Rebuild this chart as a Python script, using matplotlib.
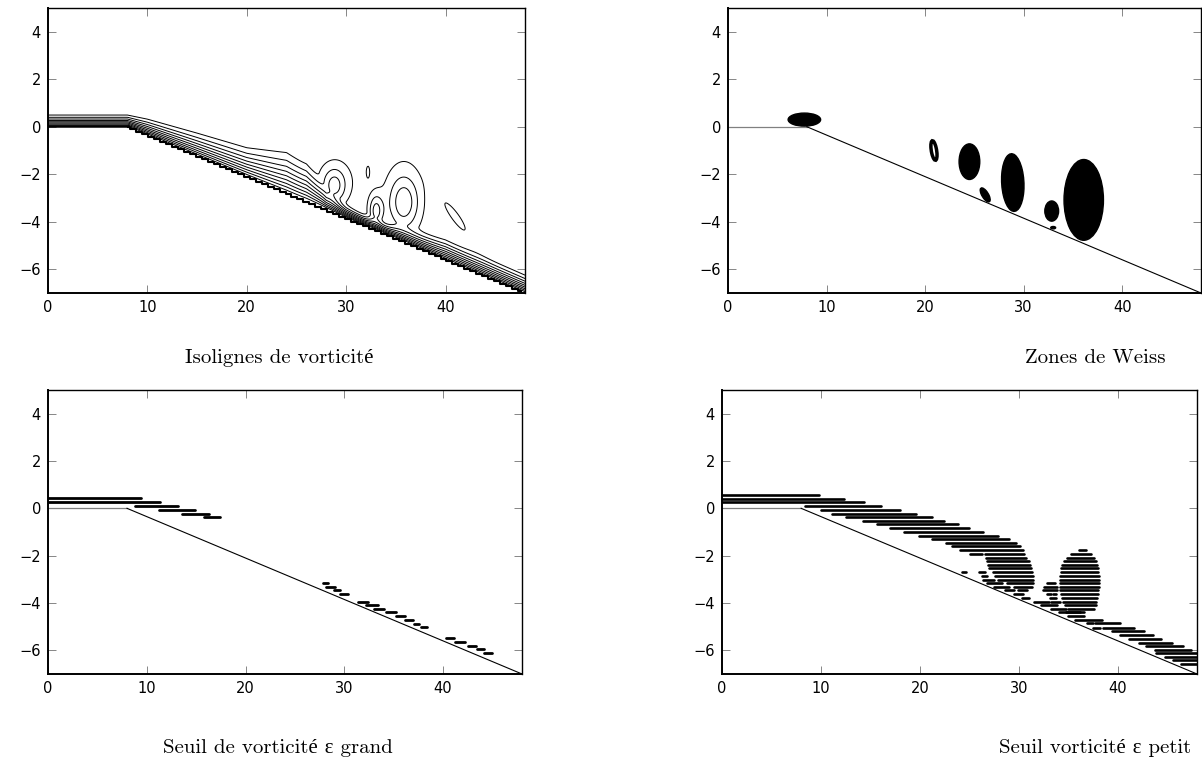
import numpy as np
import matplotlib.pyplot as plt
from matplotlib.patches import Ellipse

# geometry of the wall (plateau + slope)
wall_x = [0, 8, 48]
wall_y = [0, 0, -7]

# panel 1 : shear layer thickness along x, and the vortices (core + halo)
layer_x = [0, 8, 10, 15, 20, 24, 26, 28, 30, 33, 36, 40, 44, 48]
layer_h = [0.72, 0.72, 0.98, 1.4, 1.78, 2.5, 2.2, 1.0, 0.7, 0.6, 0.8, 1.2, 1.15, 1.1]
vort_xc = [28.8, 28.9, 33.0, 35.8, 35.8, 41.1, 32.2]
vort_yc = [-2.5, -2.3, -3.55, -3.2, -2.8, -3.85, -1.9]
vort_sx = [1.1, 2.4, 0.75, 1.5, 3.0, 2.25, 0.2]
vort_sy = [0.7, 1.25, 0.7, 1.1, 2.6, 0.47, 0.3]
vort_ang = [0, 0, 0, 0, 0, -28, 0]
vort_amp = [0.22, 0.14, 0.3, 0.28, 0.1, 0.12, 0.12]
iso_levels = [0.1, 0.2, 0.3, 0.4, 0.5, 0.6, 0.7, 0.8, 0.9]

# panel 2 : Weiss zones (filled blobs)
weiss_xc = [7.75, 24.5, 26.1, 28.9, 32.85, 33.0, 36.1]
weiss_yc = [0.3, -1.47, -2.87, -2.35, -3.55, -4.25, -3.08]
weiss_w = [3.3, 2.1, 1.1, 2.5, 1.4, 0.5, 4.0]
weiss_h = [0.55, 1.5, 0.4, 2.2, 0.85, 0.1, 3.4]
weiss_ang = [0, 0, -25, -60, 0, 0, 0]
ring_xc, ring_yc, ring_w, ring_h, ring_ang = 20.9, -1.0, 0.9, 0.5, -60

# panel 3 : vorticity threshold, large epsilon
big_y = [0.42, 0.25, 0.11, -0.07, -0.23, -0.37,
         -3.17, -3.32, -3.47, -3.63,
         -3.94, -4.09, -4.25, -4.40, -4.56, -4.71, -4.87, -5.02,
         -5.49, -5.64, -5.80, -5.95, -6.11]
big_x0 = [0, 0, 8.8, 11.2, 13.6, 15.8,
          27.8, 28.2, 29.0, 29.6,
          31.4, 32.2, 33.0, 34.2, 35.2, 36.2, 37.1, 37.8,
          40.3, 41.2, 42.5, 43.4, 44.2]
big_x1 = [9.4, 11.3, 13.2, 14.9, 16.3, 17.4,
          28.4, 29.1, 29.6, 30.4,
          32.4, 33.4, 34.0, 35.2, 36.2, 37.0, 37.6, 38.4,
          41.1, 42.2, 43.3, 44.2, 45.0]

# panel 4 : vorticity threshold, small epsilon
small_y = [0.56, 0.40, 0.25, 0.10, -0.06, -0.22, -0.37, -0.53, -0.68, -0.84,
           -0.99, -1.15, -1.30, -1.46, -1.61, -1.77, -1.92, -1.92, -2.08, -2.23,
           -2.39, -2.54, -2.70, -2.70, -2.70, -2.85, -2.85, -3.01, -3.01, -3.16,
           -3.16, -3.32, -3.32, -3.47, -3.47, -3.63, -3.78,
           -3.16, -3.32, -3.47, -3.63, -3.63, -3.78, -3.94, -3.94, -4.09, -4.25,
           -4.40, -4.56,
           -1.77, -1.92, -2.08, -2.23, -2.39, -2.54, -2.70, -2.85, -3.01, -3.16,
           -3.32, -3.47, -3.63, -3.78, -3.94, -4.09, -4.25, -4.40,
           -4.71, -4.86, -4.86, -5.04, -5.04, -5.19, -5.36, -5.52, -5.67, -5.82,
           -5.98, -6.12, -6.27, -6.42, -6.57]
small_x0 = [0, 0, 0, 8.4, 10.0, 11.1, 12.5, 14.2, 15.7, 17.0,
            18.4, 19.9, 21.2, 22.6, 23.2, 24.0, 25.1, 26.6, 26.7, 26.8,
            26.9, 27.0, 24.3, 26.0, 27.4, 26.3, 27.6, 26.4, 27.9, 26.8,
            28.8, 27.5, 29.5, 28.6, 29.9, 29.5, 30.3,
            32.8, 32.5, 32.4, 32.8, 33.4, 33.1, 31.5, 33.2, 32.2, 33.2,
            34.1, 35.0,
            36.1, 35.3, 34.9, 34.6, 34.4, 34.3, 34.3, 34.2, 34.2, 34.2,
            34.2, 34.2, 34.3, 34.4, 34.5, 34.7, 35.0, 34.8,
            35.7, 36.85, 37.7, 37.5, 38.5, 39.4, 40.2, 41.1, 42.1, 42.8,
            43.8, 43.9, 44.8, 45.6, 46.4]
small_x1 = [9.8, 12.3, 14.3, 16.1, 18.0, 19.6, 21.2, 22.4, 23.8, 25.0,
            26.4, 27.9, 29.0, 29.7, 30.1, 30.4, 26.3, 30.5, 30.7, 31.0,
            31.1, 31.2, 24.7, 26.6, 31.3, 26.8, 31.4, 27.5, 31.4, 28.3,
            31.4, 29.0, 31.3, 29.5, 30.8, 30.4, 31.0,
            33.7, 33.9, 33.9, 33.2, 33.8, 33.8, 33.0, 34.2, 33.9, 34.8,
            36.2, 36.6,
            36.8, 37.3, 37.6, 37.8, 37.9, 38.0, 38.0, 38.1, 38.1, 38.1,
            38.1, 38.0, 38.0, 37.9, 37.8, 37.8, 37.6, 36.6,
            38.4, 37.5, 40.2, 38.2, 41.6, 42.6, 43.6, 44.4, 45.5, 46.6,
            47.4, 48, 48, 48, 48]

captions = ["Isolignes de vorticité", "Zones de Weiss",
            "Seuil de vorticité ε grand", "Seuil vorticité ε petit"]
caption_x = [279, 1095, 278, 1095]
caption_y = [358, 358, 748, 748]

W, H = 1202, 767
fig = plt.figure(figsize=(W / 100, H / 100), dpi=100)


def make_axes(left, right, top, bottom):
    ax = fig.add_axes([left / W, 1 - bottom / H, (right - left) / W, (bottom - top) / H])
    ax.set_xlim(0, 48)
    ax.set_ylim(-7, 5)
    ax.set_xticks([0, 10, 20, 30, 40])
    ax.set_yticks([-6, -4, -2, 0, 2, 4])
    ax.tick_params(direction='in', length=6, width=0.6, color='0.45',
                   top=True, right=True, labelsize=10.5, pad=5)
    for s in ax.spines.values():
        s.set_linewidth(1.0)
    ax.spines['left'].set_linewidth(1.4)
    ax.spines['bottom'].set_linewidth(1.4)
    return ax


def draw_wall(ax):
    ax.plot(wall_x[:2], wall_y[:2], color='0.5', lw=0.9)
    ax.plot(wall_x[1:], wall_y[1:], color='k', lw=0.8)


ax1 = make_axes(48, 525, 8, 293)
ax2 = make_axes(728, 1201, 8, 293)
ax3 = make_axes(48, 522, 390, 674)
ax4 = make_axes(722, 1197, 390, 674)

# --- panel 1: vorticity isolines
gx = np.linspace(0, 48, 600)
gy = np.linspace(-7, 5, 500)
X, Y = np.meshgrid(gx, gy)
D = Y - np.interp(X, wall_x, wall_y)
Hl = np.interp(X, layer_x, layer_h)
field = np.clip(1 - D / Hl, 0, 1) ** 2
for xc, yc, sx, sy, ang, amp in zip(vort_xc, vort_yc, vort_sx, vort_sy, vort_ang, vort_amp):
    a = np.deg2rad(ang)
    u = (X - xc) * np.cos(a) + (Y - yc) * np.sin(a)
    v = -(X - xc) * np.sin(a) + (Y - yc) * np.cos(a)
    field += amp * np.exp(-(u / sx) ** 2 - (v / sy) ** 2)
field[D < 0] = np.nan
ax1.contour(X, Y, field, levels=iso_levels, colors='k', linewidths=0.7)
xs = np.arange(8, 48.01, 0.6)
ax1.plot([0, 8], [0.05, 0.05], color='k', lw=1.8)
ax1.plot(xs, np.interp(xs, wall_x, wall_y), color='k', lw=1.5, drawstyle='steps-mid')

# --- panel 2: Weiss zones
draw_wall(ax2)
for xc, yc, w, h, ang in zip(weiss_xc, weiss_yc, weiss_w, weiss_h, weiss_ang):
    ax2.add_patch(Ellipse((xc, yc), w, h, angle=ang, facecolor='k', edgecolor='k'))
ax2.add_patch(Ellipse((ring_xc, ring_yc), ring_w, ring_h, angle=ring_ang,
                      facecolor='none', edgecolor='k', lw=2.5))

# --- panels 3 and 4: thresholds
draw_wall(ax3)
ax3.hlines(big_y, big_x0, big_x1, colors='k', lw=2.0, capstyle='round')
draw_wall(ax4)
ax4.hlines(small_y, small_x0, small_x1, colors='k', lw=1.9, capstyle='round')

serif = ['cmr10', 'Liberation Serif']
for txt, cx, cy in zip(captions, caption_x, caption_y):
    fig.text(cx / W, 1 - cy / H, txt, ha='center', va='center', fontsize=15, family=serif)

fig.savefig('out.png', dpi=100)
